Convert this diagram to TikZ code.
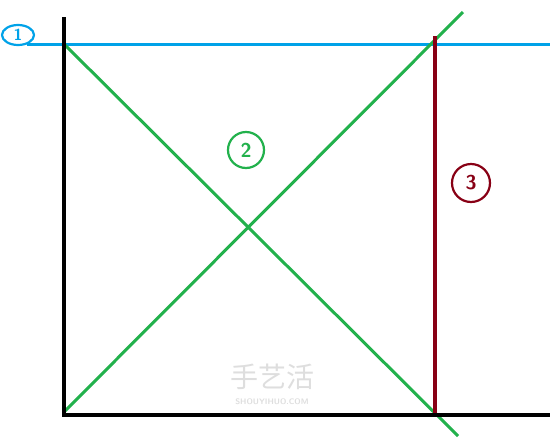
\documentclass[tikz,border=0pt]{standalone}
\usepackage{fontspec}
\newfontfamily\cjk{Noto Sans CJK SC}
\usetikzlibrary{shapes.geometric}
\definecolor{pblue}{RGB}{0,162,232}
\definecolor{pgreen}{RGB}{34,177,76}
\definecolor{pred}{RGB}{136,0,21}
\definecolor{wm}{RGB}{222,222,222}
\tikzset{
  axis/.style={line width=3.5pt,black},
  blueline/.style={line width=3pt,pblue},
  greenline/.style={line width=3pt,pgreen},
  redline/.style={line width=3.5pt,pred},
  lab/.style={draw,line width=2.2pt,inner sep=0pt,font=\sffamily\bfseries\fontsize{20}{20}\selectfont}
}
\begin{document}
\begin{tikzpicture}[x=1pt,y=-1pt]
\useasboundingbox (0,0) rectangle (550,440);
\fill[white] (0,0) rectangle (550,440);
% coordinates
\coordinate (axtop) at (64,17);
\coordinate (origin) at (64,415);
\coordinate (axright) at (550,415);
\coordinate (bl) at (27,44);
\coordinate (br) at (550,44);
\coordinate (tl) at (64,44);
\coordinate (g1end) at (458,436);
\coordinate (g2start) at (64,412);
\coordinate (g2end) at (463,12);
\coordinate (rtop) at (435,36);
\coordinate (rbot) at (435,415);
% watermark
\node[text=wm,font=\cjk\fontsize{28}{28}\selectfont] (wm1) at (272,377) {手艺活};
\node[text=wm,font=\sffamily\bfseries\fontsize{8}{8}\selectfont] (wm2) at (272,402) {SHOUYIHUO.COM};
% lines
\draw[blueline] (bl) -- (br);
\draw[greenline] (tl) -- (g1end);
\draw[greenline] (g2start) -- (g2end);
\draw[redline] (rtop) -- (rbot);
\draw[axis] (axtop) -- (origin) -- (axright);
% labels
\node[lab,pblue,ellipse,minimum width=32pt,minimum height=20pt,font=\sffamily\bfseries\fontsize{16}{16}\selectfont] (l1) at (18,35) {1};
\node[lab,pgreen,circle,minimum size=36pt] (l2) at (246,150) {2};
\node[lab,pred,circle,minimum size=38pt] (l3) at (471,183) {3};
\end{tikzpicture}
\end{document}
